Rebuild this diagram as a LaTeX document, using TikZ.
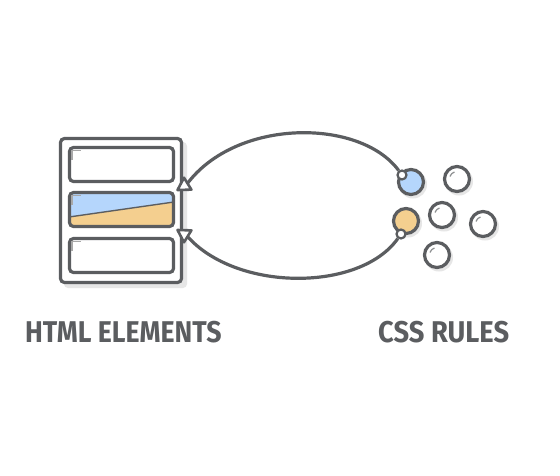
\documentclass[tikz,border=0pt]{standalone}
\usepackage{fontspec}
\setmainfont{Fira Sans}
\usetikzlibrary{calc}
\definecolor{ink}{HTML}{5B5D60}
\definecolor{shadowgray}{HTML}{E6E6E6}
\definecolor{cblue}{HTML}{B5D6FC}
\definecolor{corange}{HTML}{F4CF8F}
\definecolor{mark}{HTML}{A8A8A8}
\tikzset{
  container/.style={draw=ink, line width=3.2pt, rounded corners=4pt, fill=white, minimum width=121pt, minimum height=144pt, inner sep=0pt},
  elembox/.style={draw=ink, line width=3.2pt, rounded corners=4pt, minimum width=104pt, minimum height=34pt, inner sep=0pt},
  rulecirc/.style={circle, draw=ink, line width=3.2pt, fill=white, minimum size=25pt, inner sep=0pt},
  knob/.style={circle, draw=ink, line width=2.2pt, fill=white, minimum size=9pt, inner sep=0pt},
  conn/.style={draw=ink, line width=3.2pt},
  tiphead/.style={draw=ink, fill=white, line width=2.6pt, line join=round},
  cornermark/.style={draw=mark, line width=1.3pt},
  gloss/.style={draw=ink!70, line width=1.2pt},
  caption/.style={text=ink, font=\bfseries\fontsize{30}{30}\selectfont, inner sep=0pt, anchor=base west}
}
\begin{document}
\begin{tikzpicture}[x=1pt,y=-1pt]
\useasboundingbox[fill=white] (0,0) rectangle (560,475);
% container
\fill[shadowgray, rounded corners=4pt] (64,142) rectangle (187,288);
\node[container] (cont) at (121,210.5) {};
% boxes
\begin{scope}
  \clip[rounded corners=4pt] (69.5,192.5) rectangle (173.5,226.5);
  \fill[cblue] (69,192) rectangle (174,227);
  \fill[corange] (69,217) -- (174,202) -- (174,227) -- (69,227) -- cycle;
  \draw[draw=ink, line width=1.4pt] (69,217) -- (174,202);
\end{scope}
\node[elembox] (b1) at (121.5,164.5) {};
\node[elembox] (b2) at (121.5,209.5) {};
\node[elembox] (b3) at (121.5,255.5) {};
\foreach \b in {b1,b2,b3}{
  \draw[cornermark] ([shift={(4,14)}]\b.north west) -- ([shift={(4,4.5)}]\b.north west) -- ([shift={(13.5,4.5)}]\b.north west);
}
% circles
\foreach \n/\x/\y/\c in {cb/411/182/cblue, c2/457/179/white, co/406/221/corange, c4/442/215/white, c5/483/224/white, c6/437/255/white}{
  \fill[shadowgray] (\x+2,\y+2.5) circle[radius=14];
  \node[rulecirc, fill=\c] (\n) at (\x,\y) {};
}
\foreach \n in {c2,c4,c5,c6}{
  \draw[gloss] ([shift={(200:7.5)}]\n.center) arc (200:250:7.5);
}
% knobs
\node[knob] (k1) at (402,175) {};
\node[knob] (k2) at (401,234) {};
\coordinate (t1) at (177.5,190);
\coordinate (t2) at (177.5,230);
\coordinate (a1) at ($(t1)+(10,-6.2)$);
\coordinate (a2) at ($(t2)+(10,6.2)$);
\coordinate (e1) at ($(t1)!11pt!(a1)$);
\coordinate (e2) at ($(t2)!11pt!(a2)$);
\draw[conn] (k1) .. controls (360,118) and (236,118) .. (e1);
\draw[conn] (k2) .. controls (360,292) and (236,292) .. (e2);
% arrow heads
\foreach \t/\a in {t1/a1,t2/a2}{
  \coordinate (bc) at ($(\t)!12pt!(\a)$);
  \draw[tiphead] (\t) -- ($(bc)!7pt!90:(\t)$) -- ($(bc)!7pt!-90:(\t)$) -- cycle;
}
% captions
\node[caption] (h) at (25,342) {\scalebox{0.89}[1]{HTML ELEMENTS}};
\node[caption] (c) at (378,342) {\scalebox{0.91}[1]{CSS RULES}};
\end{tikzpicture}
\end{document}
